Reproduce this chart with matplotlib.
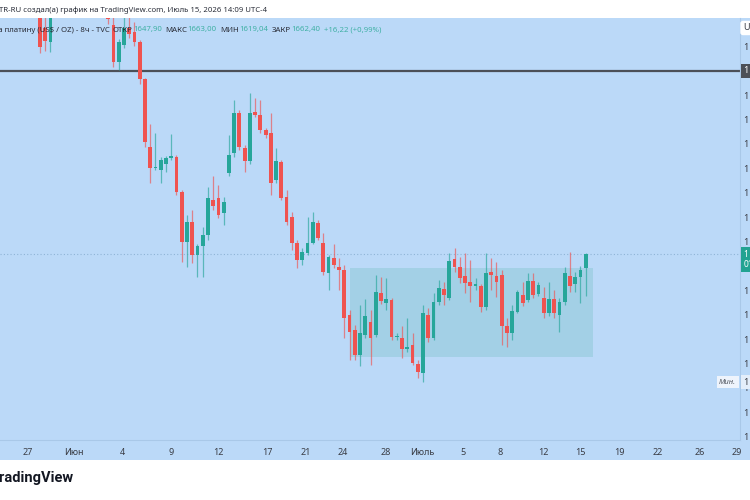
import matplotlib
matplotlib.use('Agg')
import matplotlib.pyplot as plt
from matplotlib.patches import Rectangle

# 8h candles of platinum, bar 0 is the first candle seen at the left edge
# None = candle lies above the visible price range
opens = [1912, 1894, 1879, None, None, None, None, None, None, None, None, None, None,
         1915, 1897, 1859, 1876, 1894, 1890, 1879, 1841, 1772, 1750, 1748, 1754, 1761,
         1762, 1726, 1675, 1695, 1661, 1670, 1682, 1718, 1720, 1704, 1745, 1766, 1807,
         1771, 1757, 1808, 1805, 1789, 1786, 1738, 1756, 1721, 1700, 1674, 1656, 1663,
         1674, 1694, 1674, 1643, 1658, 1649, 1646, 1600, 1584, 1559, 1579, 1593, 1579,
         1622, 1612, 1615, 1577, 1576, 1565, 1569, 1550, 1540, 1600, 1576, 1613, 1626,
         1617, 1657, 1649, 1640, 1634, 1629, 1629, 1608, 1644, 1640, 1641, 1588, 1581,
         1603, 1620, 1615, 1635, 1621, 1617, 1602, 1616, 1600, 1613, 1640, 1631, 1639,
         1647.90]
highs = [1920, 1907, 1917, None, None, None, None, None, None, None, None, None, None,
         1922, 1907, 1882, 1907, 1905, 1900, 1881, 1843, 1795, 1786, 1762, 1763, 1785,
         1764, 1728, 1702, 1707, 1672, 1690, 1731, 1742, 1733, 1721, 1784, 1820, 1810,
         1774, 1827, 1822, 1820, 1791, 1807, 1771, 1759, 1728, 1705, 1677, 1668, 1700,
         1705, 1697, 1684, 1661, 1672, 1658, 1651, 1605, 1590, 1610, 1616, 1605, 1641,
         1639, 1638, 1617, 1581, 1588, 1597, 1581, 1554, 1610, 1607, 1622, 1636, 1634,
         1663, 1668, 1659, 1663, 1656, 1638, 1631, 1663, 1658, 1654, 1646, 1597, 1610,
         1625, 1634, 1643, 1643, 1634, 1628, 1634, 1625, 1617, 1649, 1664, 1644, 1650,
         1663.00]
lows = [1868, 1870, 1869, None, None, None, None, None, None, None, None, None, None,
        1898, 1854, 1851, 1873, 1884, 1875, 1836, 1772, 1735, 1748, 1735, 1746, 1759,
        1723, 1654, 1649, 1653, 1639, 1639, 1677, 1707, 1699, 1692, 1742, 1762, 1769,
        1746, 1754, 1803, 1786, 1781, 1723, 1735, 1718, 1692, 1666, 1648, 1651, 1661,
        1672, 1677, 1641, 1625, 1648, 1625, 1576, 1554, 1554, 1547, 1576, 1549, 1577,
        1611, 1605, 1574, 1574, 1556, 1562, 1549, 1535, 1531, 1572, 1574, 1610, 1610,
        1615, 1644, 1633, 1622, 1613, 1625, 1603, 1605, 1625, 1618, 1569, 1567, 1574,
        1602, 1609, 1613, 1617, 1619, 1597, 1599, 1597, 1582, 1610, 1623, 1623, 1612,
        1619.04]
closes = [1874, 1880, 1910, None, None, None, None, None, None, None, None, None, None,
          1903, 1859, 1879, 1894, 1888, 1879, 1841, 1777, 1750, 1751, 1759, 1761, 1763,
          1726, 1675, 1695, 1661, 1670, 1682, 1720, 1711, 1702, 1716, 1764, 1807, 1772,
          1757, 1807, 1805, 1789, 1784, 1735, 1757, 1720, 1695, 1674, 1656, 1664, 1674,
          1695, 1679, 1644, 1659, 1651, 1646, 1597, 1582, 1559, 1581, 1599, 1576, 1623,
          1614, 1616, 1577, 1578, 1565, 1567, 1551, 1541, 1602, 1576, 1613, 1627, 1620,
          1655, 1649, 1638, 1633, 1629, 1631, 1608, 1643, 1641, 1634, 1588, 1581, 1604,
          1623, 1612, 1635, 1620, 1630, 1602, 1616, 1602, 1613, 1643, 1629, 1639, 1646,
          1662.40]

date_labels = ['27', 'Июн', '4', '9', '12', '17', '21', '24', '28', 'Июль',
               '5', '8', '12', '15', '19', '22', '26', '29']
date_bars = [-2.3, 6.5, 15.8, 25.0, 33.9, 43.3, 50.7, 57.7, 65.8, 72.8,
             80.6, 87.7, 95.9, 102.9, 110.5, 117.8, 125.8, 132.8]
price_ticks = [1475, 1500, 1525, 1550, 1575, 1600, 1625, 1675, 1700, 1725,
               1750, 1775, 1800, 1825, 1875]

level_price = 1850.0
range_box = {'start': 59.1, 'end': 105.4, 'low': 1557, 'high': 1648}
low_price = 1531.0

legend_parts = [('ОТКР', '1647,90'), ('МАКС', '1663,00'), ('МИН', '1619,04'), ('ЗАКР', '1662,40')]
legend_change = '+16,22 (+0,99%)'

BG = '#bbd9f8'
UP = '#26a69a'
DOWN = '#ef5350'
W, H = 750, 500


def px(x, y):
    # pixel (from top left) -> figure fraction
    return x / W, 1 - y / H


def draw_candles(ax):
    for i in range(len(opens)):
        o, h, l, c = opens[i], highs[i], lows[i], closes[i]
        if o is None:
            continue
        col = UP if c >= o else DOWN
        ax.vlines(i, l, h, color=col, lw=0.9, alpha=0.65, zorder=3)
        body = max(abs(c - o), 1.2)
        ax.bar(i, body, bottom=min(o, c), width=0.72, color=col, lw=0, zorder=4)


def draw_legend(fig):
    renderer = fig.canvas.get_renderer()
    x = 112
    for name, val in legend_parts:
        t = fig.text(*px(x, 30), name, fontsize=5.6, color='#2a2e39', va='center', ha='left')
        x += t.get_window_extent(renderer).width + 1
        t = fig.text(*px(x, 30), val, fontsize=5.6, color='#3fb0a4', va='center', ha='left')
        x += t.get_window_extent(renderer).width + 3
    fig.text(*px(x, 30), legend_change, fontsize=5.6, color='#3fb0a4', va='center', ha='left')


if __name__ == '__main__':
    plt.rcParams['font.family'] = ['Noto Sans', 'DejaVu Sans']
    fig = plt.figure(figsize=(7.5, 5), dpi=100, facecolor='white')

    # blue band behind chart, time axis and price axis
    fig.patches.append(Rectangle(px(0, 460), 1, 442 / H, transform=fig.transFigure,
                                 facecolor=BG, edgecolor='none', zorder=-10))

    l, b = px(0, 440)
    ax = fig.add_axes([l, b, 740 / W, 422 / H])
    ax.set_facecolor(BG)
    ax.set_xlim(-40 / 5.247, 700 / 5.247)
    ax.set_ylim(1471.7, 1904)

    ax.add_patch(Rectangle((range_box['start'], range_box['low']),
                           range_box['end'] - range_box['start'],
                           range_box['high'] - range_box['low'],
                           facecolor='#a3d0e6', edgecolor='none', zorder=1))
    ax.axhline(level_price, color='#4c5058', lw=1.6, zorder=2)
    ax.axhline(closes[-1], color='#8fb4d6', lw=0.8, ls=(0, (1, 2)), zorder=2)

    draw_candles(ax)

    ax.set_xticks(date_bars)
    ax.set_xticklabels(date_labels)
    for t in ax.get_xticklabels():
        if t.get_text() in ('Июн', 'Июль'):
            t.set_fontweight('bold')
    ax.tick_params(axis='x', length=0, pad=6, labelsize=6.5, colors='#3a3d45')

    ax.yaxis.tick_right()
    ax.set_yticks(price_ticks)
    ax.set_yticklabels([f'{p:,.2f}'.replace(',', ' ').replace('.', ',') for p in price_ticks])
    ax.tick_params(axis='y', length=0, pad=3, labelsize=6.5, colors='#3a3d45')

    for side in ('top', 'left'):
        ax.spines[side].set_visible(False)
    ax.spines['bottom'].set_color('#a9c8e8')
    ax.spines['right'].set_color('#a9c8e8')
    ax.spines['bottom'].set_linewidth(0.8)
    ax.spines['right'].set_linewidth(0.8)

    # labels on the price axis
    ax.text(1.005, level_price, '1 850,00', transform=ax.get_yaxis_transform(),
            fontsize=6.5, color='white', va='center', ha='left',
            bbox=dict(boxstyle='square,pad=0.3', fc='#4c5058', ec='none'))
    ax.text(1.005, closes[-1] - 6, '1 662,40\n01:50:59', transform=ax.get_yaxis_transform(),
            fontsize=6, color='white', va='center', ha='left', linespacing=1.1,
            bbox=dict(boxstyle='square,pad=0.35', fc='#22a392', ec='none'))
    ax.text(1.005, low_price, '1 531,00', transform=ax.get_yaxis_transform(),
            fontsize=6.5, color='#3a3d45', va='center', ha='left',
            bbox=dict(boxstyle='square,pad=0.25', fc='#e4eefa', ec='none'))
    ax.text(0.995, low_price, 'Мин.', transform=ax.get_yaxis_transform(),
            fontsize=5.5, color='#555a63', va='center', ha='right', style='italic',
            bbox=dict(boxstyle='square,pad=0.3', fc='#eef4fc', ec='none'))
    fig.text(*px(743, 28), 'USD', fontsize=6.5, color='#3a3d45', va='center', ha='left',
             bbox=dict(boxstyle='round,pad=0.3', fc='white', ec='none'))

    # header lines
    fig.text(*px(-1, 10), 'TR-RU создал(а) график на TradingView.com, Июль 15, 2026 14:09 UTC-4',
             fontsize=5.6, color='#2a2e39', va='center', ha='left')
    fig.text(*px(110, 30), 'CFD на платину (US$ / OZ) - 8ч - TVC',
             fontsize=5.6, color='#2a2e39', va='center', ha='right', zorder=1)
    draw_legend(fig)

    fig.text(*px(-9, 478), 'TradingView', fontsize=10.5, fontweight='bold',
             family=['Roboto', 'DejaVu Sans'], color='#131722', va='center', ha='left')

    fig.savefig('out.png', dpi=100, facecolor='white')
